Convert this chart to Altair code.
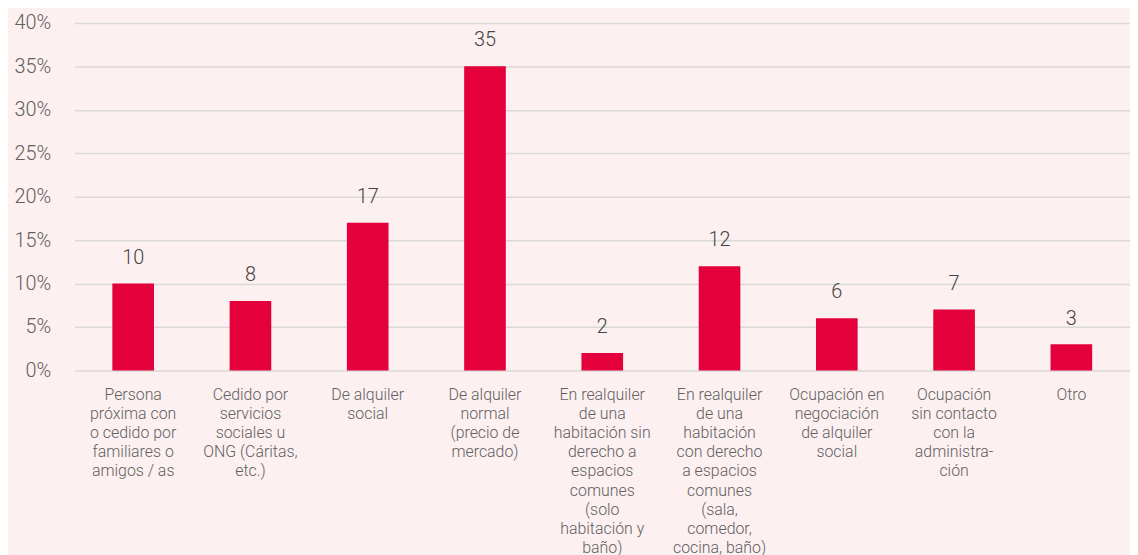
import altair as alt
import pandas as pd

categories = [
    "Persona|próxima con|o cedido por|familiares o|amigos / as",
    "Cedido por|servicios|sociales u|ONG (Cáritas,|etc.)",
    "De alquiler|social",
    "De alquiler|normal|(precio de|mercado)",
    "En realquiler|de una|habitación sin|derecho a|espacios|comunes|(solo|habitación y|baño)",
    "En realquiler|de una|habitación|con derecho|a espacios|comunes|(sala,|comedor,|cocina, baño)",
    "Ocupación en|negociación|de alquiler|social",
    "Ocupación|sin contacto|con la|administra-|ción",
    "Otro",
]
values = [10, 8, 17, 35, 2, 12, 6, 7, 3]
y_ticks = [0, 5, 10, 15, 20, 25, 30, 35, 40]

df = pd.DataFrame({"cat": categories, "val": values})

FONT = "Roboto"
BAR = "#e4003b"

x = alt.X(
    "cat:N",
    sort=None,
    scale=alt.Scale(paddingInner=0.645, paddingOuter=0.3225),
    axis=alt.Axis(
        title=None,
        labelAngle=0,
        labelExpr="split(datum.value, '|')",
        labelFont=FONT,
        labelFontWeight=300,
        labelFontSize=16,
        labelColor="#606060",
        labelLineHeight=19.3,
        labelPadding=16,
        labelBaseline="top",
        ticks=False,
        domain=False,
    ),
)
y = alt.Y(
    "val:Q",
    scale=alt.Scale(domain=[0, 40], nice=False),
    axis=alt.Axis(
        title=None,
        values=y_ticks,
        labelExpr="datum.value + '%'",
        labelFont=FONT,
        labelFontWeight=300,
        labelFontSize=20,
        labelColor="#606060",
        labelPadding=24,
        ticks=False,
        domain=False,
        grid=True,
        gridColor="#d9d9d9",
        gridWidth=1.5,
    ),
)

bars = alt.Chart(df).mark_bar(color=BAR).encode(x=x, y=y)
text = alt.Chart(df).mark_text(
    font=FONT, fontWeight=300, fontSize=20, color="#444444", dy=-26
).encode(x=alt.X("cat:N", sort=None), y="val:Q", text="val:Q")

chart = (
    alt.layer(bars, text)
    .properties(
        width=1063,
        height=350,
        background="#fdf0f0",
        padding={"left": 67, "top": 13, "right": 0, "bottom": 200},
        autosize=alt.AutoSizeParams(type="none"),
    )
    .configure_view(stroke=None)
)
chart.save("out.html", embed_options={"renderer": "svg", "actions": False})
